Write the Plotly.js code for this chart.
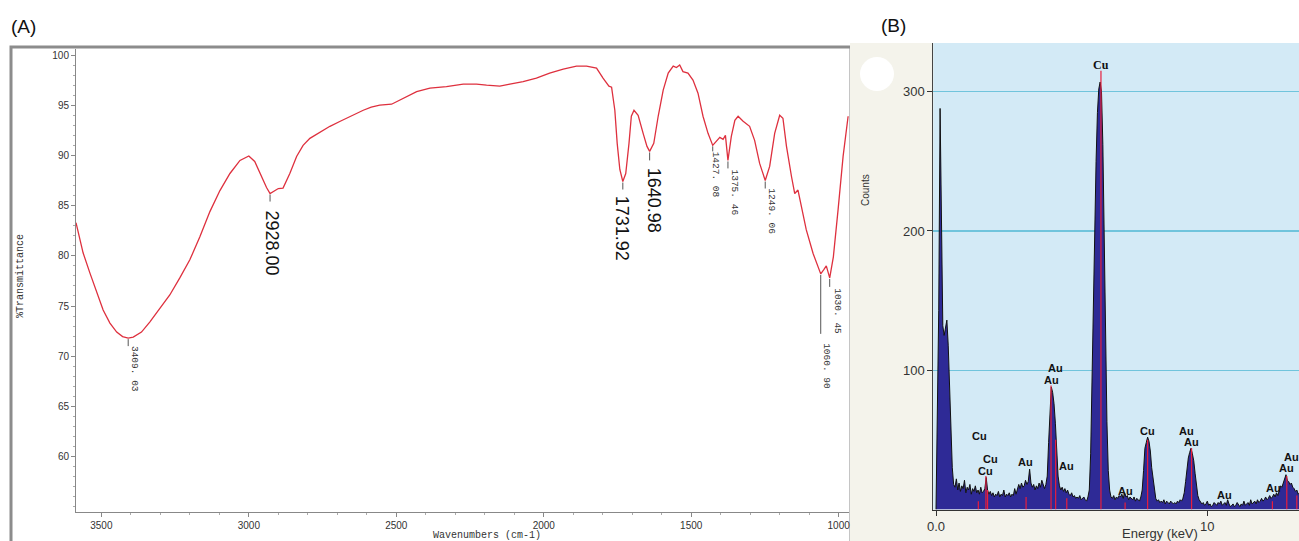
<!DOCTYPE html>
<html>
<head>
<meta charset="utf-8">
<script src="https://cdn.plot.ly/plotly-3.0.1.min.js"></script>
<style>
html,body{margin:0;padding:0;background:#fff;overflow:hidden;}
#chart{width:1299px;height:541px;}
</style>
</head>
<body>
<div id="chart"></div>
<script>
// ---------- (A) FTIR spectrum ----------
const wavenumber = [
  3586, 3562, 3539, 3516, 3494, 3471, 3448, 3428, 3409.03, 3392, 3364, 3336, 3302, 3268, 3234, 3200,
  3166, 3132, 3098, 3064, 3030, 3000, 2980, 2957, 2940, 2928.00, 2917, 2900, 2884, 2861, 2838, 2816,
  2793, 2760, 2725, 2690, 2669, 2640, 2612, 2585, 2556, 2516, 2477, 2431, 2386, 2330, 2273, 2228,
  2194, 2149, 2115, 2070, 2025, 1980, 1934, 1889, 1855, 1821, 1799, 1779, 1770, 1759, 1751, 1742,
  1731.92, 1722, 1711, 1703, 1694, 1680, 1663, 1650, 1640.98, 1627, 1612, 1595, 1578, 1561, 1550, 1539,
  1528, 1511, 1494, 1477, 1460, 1443, 1427.08, 1414, 1403, 1392, 1384, 1375.46, 1364, 1352, 1341, 1324,
  1302, 1285, 1268, 1249.06, 1234, 1217, 1200, 1189, 1177, 1160, 1149, 1138, 1127, 1110, 1087, 1060.90,
  1051, 1042, 1030.45, 1018, 1002, 985, 968
];
const transmittance = [
  83.3, 80.3, 78.3, 76.3, 74.6, 73.3, 72.4, 71.95, 71.8, 71.9, 72.4, 73.4, 74.8, 76.1, 77.8, 79.6,
  81.9, 84.4, 86.5, 88.2, 89.5, 89.95, 89.4, 87.9, 86.8, 86.2, 86.4, 86.7, 86.75, 88.2, 89.9, 91.0,
  91.7, 92.3, 92.9, 93.4, 93.7, 94.1, 94.5, 94.8, 95.0, 95.1, 95.7, 96.35, 96.7, 96.85, 97.1, 97.1,
  97.0, 96.9, 97.1, 97.35, 97.7, 98.2, 98.6, 98.9, 98.9, 98.7, 97.7, 96.9, 96.8, 94.5, 91.2, 88.6,
  87.4, 88.2, 91.2, 93.9, 94.5, 94.0, 92.2, 90.9, 90.4, 91.2, 93.9, 96.5, 98.2, 98.9, 98.75, 99.0,
  98.35, 98.2, 97.5, 96.2, 93.9, 92.2, 91.0, 91.5, 91.8, 91.6, 92.0, 89.5, 91.9, 93.5, 93.9, 93.4,
  92.9, 91.5, 89.2, 87.5, 88.9, 92.2, 94.0, 93.7, 90.9, 87.9, 86.2, 86.55, 84.9, 82.6, 80.25, 78.2,
  78.6, 79.0, 77.8, 79.9, 84.6, 89.9, 93.9
];
// band minima and their printed labels
const peakWavenumber = [3409.03, 2928.00, 1731.92, 1640.98, 1427.08, 1375.46, 1249.06, 1060.90, 1030.45];
const peakTransmittance = [71.8, 86.2, 87.4, 90.4, 91.0, 89.5, 87.5, 78.2, 77.8];
const peakLabel = ['3409. 03', '2928.00', '1731.92', '1640.98', '1427. 08', '1375. 46', '1249. 06', '1060. 90', '1030. 45'];
const transmittanceTicks = [60, 65, 70, 75, 80, 85, 90, 95, 100];

// ---------- (B) EDS spectrum ----------
const energy = [
  0.00,0.05,0.10,0.15,0.20,0.25,0.30,0.35,0.40,0.45,0.50,0.55,0.60,0.65,0.70,0.75,0.80,0.85,0.90,0.95,
  1.00,1.05,1.10,1.15,1.20,1.25,1.30,1.35,1.40,1.45,1.50,1.55,1.60,1.65,1.70,1.75,1.80,1.85,1.90,1.95,
  2.00,2.05,2.10,2.15,2.20,2.25,2.30,2.35,2.40,2.45,2.50,2.55,2.60,2.65,2.70,2.75,2.80,2.85,2.90,2.95,
  3.00,3.05,3.10,3.15,3.20,3.25,3.30,3.35,3.40,3.45,3.50,3.55,3.60,3.65,3.70,3.75,3.80,3.85,3.90,3.95,
  4.00,4.05,4.10,4.15,4.20,4.25,4.30,4.35,4.40,4.45,4.50,4.55,4.60,4.65,4.70,4.75,4.80,4.85,4.90,4.95,
  5.00,5.05,5.10,5.15,5.20,5.25,5.30,5.35,5.40,5.45,5.50,5.55,5.60,5.65,5.70,5.75,5.80,5.85,5.90,5.95,
  6.00,6.05,6.10,6.15,6.20,6.25,6.30,6.35,6.40,6.45,6.50,6.55,6.60,6.65,6.70,6.75,6.80,6.85,6.90,6.95,
  7.00,7.05,7.10,7.15,7.20,7.25,7.30,7.35,7.40,7.45,7.50,7.55,7.60,7.65,7.70,7.75,7.80,7.85,7.90,7.95,
  8.00,8.05,8.10,8.15,8.20,8.25,8.30,8.35,8.40,8.45,8.50,8.55,8.60,8.65,8.70,8.75,8.80,8.85,8.90,8.95,
  9.00,9.05,9.10,9.15,9.20,9.25,9.30,9.35,9.40,9.45,9.50,9.55,9.60,9.65,9.70,9.75,9.80,9.85,9.90,9.95,
  10.00,10.05,10.10,10.15,10.20,10.25,10.30,10.35,10.40,10.45,10.50,10.55,10.60,10.65,10.70,10.75,10.80,10.85,10.90,10.95,
  11.00,11.05,11.10,11.15,11.20,11.25,11.30,11.35,11.40,11.45,11.50,11.55,11.60,11.65,11.70,11.75,11.80,11.85,11.90,11.95,
  12.00,12.05,12.10,12.15,12.20,12.25,12.30,12.35,12.40,12.45,12.50,12.55,12.60,12.65,12.70,12.75,12.80,12.85,12.90,12.95,
  13.00,13.05,13.10,13.15,13.20,13.25,13.30,13.35,13.40
];
const counts = [
  0,60,143,288,216,132,125,130,136,118,85,55,30,18,16,22,14,19,13,17,
  15,21,12,16,14,18,11,15,13,17,12,14,11,16,12,13,15,23,14,11,
  13,10,12,9,11,10,13,9,11,10,14,9,11,10,12,9,11,10,15,11,
  14,18,15,19,16,17,21,18,20,29,19,16,18,14,17,15,19,16,21,17,
  15,18,24,48,72,88,84,76,62,40,24,17,14,16,13,15,12,14,11,10,
  12,9,10,8,9,8,10,7,8,9,7,6,9,14,40,100,148,200,250,285,
  302,307,300,262,190,130,63,28,14,9,8,10,7,9,8,10,9,11,8,12,
  9,10,7,9,8,7,9,6,8,7,6,9,14,28,44,48,52,49,42,30,
  22,13,8,6,7,5,6,5,7,4,6,5,4,6,5,4,5,4,6,5,
  7,6,8,12,20,30,37,41,44,40,35,26,18,10,7,5,4,5,3,4,
  6,3,4,2,3,5,4,3,5,4,6,3,4,5,3,7,4,2,3,4,
  2,3,5,3,2,4,3,6,3,4,5,3,7,4,5,6,4,7,5,6,
  8,6,7,9,7,8,10,8,9,11,9,12,10,14,17,16,19,22,25,21,
  20,18,19,16,15,13,14,11,12
];
// element line markers
const lineEnergy = [1.56, 1.84, 1.90, 3.32, 4.24, 4.41, 4.82, 6.08, 6.97, 7.80, 9.42, 12.40, 12.93, 13.30];
const lineHeight = [6, 24, 14, 9, 89, 50, 8, 315, 5, 50, 44, 6, 24, 10];
// element labels
const elementText = ['Cu','Cu','Cu','Au','Au','Au','Au','Cu','Au','Cu','Au','Au','Au','Au','Au','Au'];
const elementEnergy = [1.62, 2.02, 1.84, 3.31, 4.39, 4.26, 4.82, 6.08, 6.98, 7.80, 9.24, 9.42, 10.62, 12.43, 12.93, 13.10];
const elementCounts = [52.7, 36.2, 27.6, 34.1, 101.8, 93, 31.4, 319, 13.5, 56.4, 56.6, 48.2, 10.4, 15.2, 29.6, 37.9];

// ---------- page geometry (pixels -> paper) ----------
const W = 1299, H = 541;
const px = v => v / W;
const py = v => 1 - v / H;

const SANS = 'Liberation Sans, Arial, sans-serif';
const MONO = 'Liberation Mono, Courier New, monospace';

// label placement below each band (pixels): [dx, dy, leader length, big font]
const labelStyle = [
  [7, 31, 7, false], [2, 49, 7, true], [0, 47, 7, true], [4, 49, 8, true],
  [3, 29, 5, false], [7, 32, 7, false], [6, 31, 7, false], [5, 92, 59, false], [7, 33, 8, false]
];

const irTrace = {
  x: wavenumber, y: transmittance, xaxis: 'x', yaxis: 'y',
  type: 'scatter', mode: 'lines',
  line: {color: 'rgb(222,48,62)', width: 1.3},
  hoverinfo: 'skip'
};

const edsTrace = {
  x: energy, y: counts, xaxis: 'x2', yaxis: 'y2',
  type: 'scatter', mode: 'lines', fill: 'tozeroy',
  fillcolor: 'rgb(46,42,150)',
  line: {color: '#111', width: 1},
  hoverinfo: 'skip'
};

const lx = [], ly = [];
lineEnergy.forEach((e, i) => { lx.push(e, e, null); ly.push(0, lineHeight[i], null); });
const markerTrace = {
  x: lx, y: ly, xaxis: 'x2', yaxis: 'y2',
  type: 'scatter', mode: 'lines',
  line: {color: 'rgb(232,30,60)', width: 1.2},
  hoverinfo: 'skip'
};

const shapes = [
  // frame around panel A
  {type: 'rect', xref: 'paper', yref: 'paper', x0: px(11), x1: px(851), y0: py(560), y1: py(47),
   line: {color: '#8c8c8c', width: 3}, fillcolor: 'rgba(0,0,0,0)', layer: 'below'},
  // panel B background
  {type: 'rect', xref: 'paper', yref: 'paper', x0: px(850), x1: 1.01, y0: -0.02, y1: py(43),
   line: {width: 0}, fillcolor: 'rgb(244,243,235)', layer: 'below'},
  {type: 'rect', xref: 'x2 domain', yref: 'y2 domain', x0: 0, x1: 1, y0: 0, y1: 1,
   line: {width: 0}, fillcolor: 'rgb(211,234,246)', layer: 'below'},
  // white disc in the corner of panel B
  {type: 'circle', xref: 'paper', yref: 'paper', x0: px(860), x1: px(894), y0: py(91), y1: py(57),
   line: {width: 0}, fillcolor: '#ffffff'}
];

const annotations = [];
peakWavenumber.forEach((w, i) => {
  const [dx, dy, len, big] = labelStyle[i];
  shapes.push({
    type: 'line', xref: 'x', yref: 'y', x0: w, x1: w,
    ysizemode: 'pixel', yanchor: peakTransmittance[i], y0: -1, y1: -1 - len,
    line: {color: '#555', width: 1}
  });
  annotations.push({
    xref: 'x', yref: 'y', x: w, y: peakTransmittance[i],
    xshift: dx, yshift: -dy, text: peakLabel[i], textangle: 90,
    showarrow: false, xanchor: 'center', yanchor: 'middle',
    font: big ? {family: SANS, size: 18, color: '#111'} : {family: MONO, size: 9.5, color: '#333'}
  });
});

elementText.forEach((t, i) => {
  annotations.push({
    xref: 'x2', yref: 'y2', x: elementEnergy[i], y: elementCounts[i], text: t,
    showarrow: false, xanchor: 'center', yanchor: 'middle',
    font: i === 7 ? {family: 'Liberation Serif, Times New Roman, serif', size: 12, color: '#111', weight: 'bold'}
                  : {family: SANS, size: 11, color: '#111', weight: 'bold'}
  });
});

// panel letters and axis captions
annotations.push(
  {xref: 'paper', yref: 'paper', x: px(23), y: py(27), text: '(A)', showarrow: false,
   xanchor: 'center', yanchor: 'middle', font: {family: SANS, size: 19, color: '#111'}},
  {xref: 'paper', yref: 'paper', x: px(893), y: py(26), text: '(B)', showarrow: false,
   xanchor: 'center', yanchor: 'middle', font: {family: SANS, size: 19, color: '#111'}},
  {xref: 'paper', yref: 'paper', x: px(20), y: py(276), text: '%Transmittance', textangle: -90,
   showarrow: false, xanchor: 'center', yanchor: 'middle', font: {family: MONO, size: 10, color: '#333'}},
  {xref: 'paper', yref: 'paper', x: px(487), y: py(535.5), text: 'Wavenumbers (cm-1)',
   showarrow: false, xanchor: 'center', yanchor: 'middle', font: {family: MONO, size: 10, color: '#333'}},
  {xref: 'paper', yref: 'paper', x: px(865), y: py(190), text: 'Counts', textangle: -90,
   showarrow: false, xanchor: 'center', yanchor: 'middle', font: {family: SANS, size: 10, color: '#333'}},
  {xref: 'paper', yref: 'paper', x: px(1160), y: py(533), text: 'Energy (keV)',
   showarrow: false, xanchor: 'center', yanchor: 'middle', font: {family: SANS, size: 13, color: '#333'}}
);

const layout = {
  width: W, height: H,
  margin: {l: 0, r: 0, t: 0, b: 0, pad: 0},
  paper_bgcolor: '#ffffff', plot_bgcolor: 'rgba(0,0,0,0)',
  showlegend: false, hovermode: false,
  xaxis: {
    domain: [px(76), px(849)], range: [3586, 965], anchor: 'y',
    tick0: 0, dtick: 500, ticks: 'outside', ticklen: 4, tickcolor: '#888',
    minor: {dtick: 100, ticks: 'outside', ticklen: 2, tickcolor: '#aaa'},
    showline: true, linecolor: '#888', linewidth: 1,
    showgrid: false, zeroline: false,
    tickfont: {family: SANS, size: 10, color: '#333'}
  },
  yaxis: {
    domain: [py(512), py(49)], range: [54.48, 100.6], anchor: 'x',
    tickvals: transmittanceTicks, ticks: 'outside', ticklen: 4, tickcolor: '#888',
    minor: {tick0: 0, dtick: 1, ticks: 'outside', ticklen: 2, tickcolor: '#aaa'},
    showline: true, linecolor: '#888', linewidth: 1,
    showgrid: false, zeroline: false,
    tickfont: {family: SANS, size: 10, color: '#333'}
  },
  xaxis2: {
    domain: [px(933.3), 1], range: [-0.1, 13.38], anchor: 'y2',
    tickvals: [0, 10], ticktext: ['0.0', '10'],
    ticks: 'outside', ticklen: 5, tickcolor: '#333',
    showline: true, linecolor: '#333', linewidth: 1.2,
    showgrid: false, zeroline: false,
    tickfont: {family: SANS, size: 13, color: '#333'}
  },
  yaxis2: {
    domain: [py(509.5), py(43)], range: [0, 335], anchor: 'x2',
    tickvals: [100, 200, 300],
    ticks: 'outside', ticklen: 5, tickcolor: '#333',
    showline: true, linecolor: '#444', linewidth: 1,
    showgrid: true, gridcolor: 'rgb(112,196,220)', gridwidth: 1.5,
    zeroline: false,
    tickfont: {family: SANS, size: 13, color: '#333'}
  },
  shapes: shapes,
  annotations: annotations
};

Plotly.newPlot('chart', [irTrace, edsTrace, markerTrace], layout, {staticPlot: true, displayModeBar: false});
</script>
</body>
</html>
